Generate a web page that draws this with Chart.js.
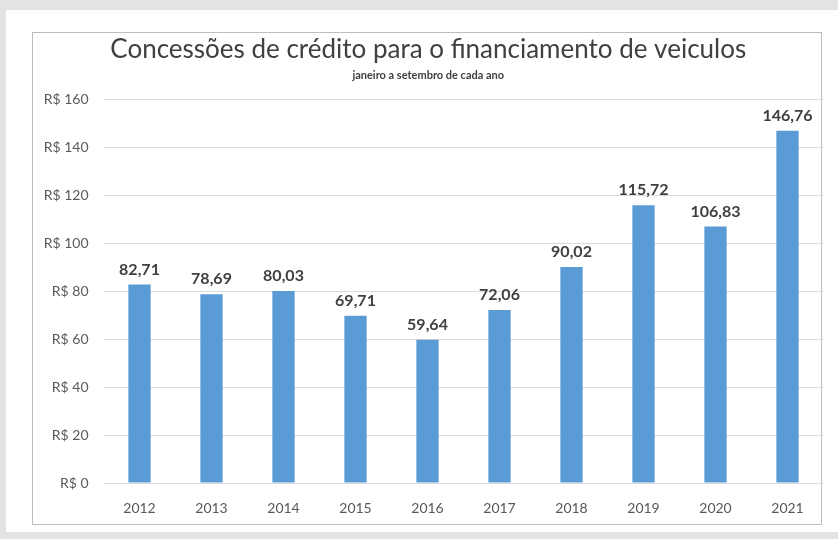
<!DOCTYPE html>
<html>
<head>
<meta charset="utf-8">
<script src="https://cdn.jsdelivr.net/npm/chart.js@4/dist/chart.umd.min.js"></script>
<style>
  html, body { margin: 0; padding: 0; background: #e3e3e3; }
  #wrap { position: relative; width: 838px; height: 539px; }
  canvas { position: absolute; left: 0; top: 0; }
</style>
</head>
<body>
<div id="wrap"><canvas id="c" width="838" height="539"></canvas></div>
<script>
// Vehicle-financing credit concessions, January–September, R$ billions
const years = ['2012', '2013', '2014', '2015', '2016', '2017', '2018', '2019', '2020', '2021'];
const concessions = [82.71, 78.69, 80.03, 69.71, 59.64, 72.06, 90.02, 115.72, 106.83, 146.76];
const yTicks = [0, 20, 40, 60, 80, 100, 120, 140, 160];

const FONT = 'Lato, "Open Sans", sans-serif';
const fmt = v => v.toFixed(2).replace('.', ',');

// page panel and framed chart box behind the plot
const frame = {
  id: 'frame',
  beforeDraw(chart) {
    const ctx = chart.ctx;
    ctx.save();
    ctx.fillStyle = '#e3e3e3';
    ctx.fillRect(0, 0, chart.width, chart.height);
    ctx.fillStyle = '#ffffff';
    ctx.fillRect(6, 10, chart.width - 6, 522);
    ctx.strokeStyle = '#bdbdbd';
    ctx.lineWidth = 1;
    ctx.strokeRect(32.5, 32.5, 789, 492);
    ctx.restore();
  }
};

// value labels above each bar
const valueLabels = {
  id: 'valueLabels',
  afterDatasetsDraw(chart) {
    const ctx = chart.ctx;
    const meta = chart.getDatasetMeta(0);
    ctx.save();
    ctx.font = 'bold 16px ' + FONT;
    ctx.fillStyle = '#404040';
    ctx.textAlign = 'center';
    ctx.textBaseline = 'bottom';
    meta.data.forEach((bar, i) => {
      ctx.fillText(fmt(concessions[i]), bar.x, bar.y - 7);
    });
    ctx.restore();
  }
};

new Chart(document.getElementById('c'), {
  type: 'bar',
  data: {
    labels: years,
    datasets: [{
      data: concessions,
      backgroundColor: '#5b9bd5',
      borderWidth: 0,
      barPercentage: 0.31,
      categoryPercentage: 1
    }]
  },
  options: {
    responsive: false,
    animation: false,
    devicePixelRatio: 1,
    layout: { padding: { top: 32, left: 33, right: 14.5, bottom: 14 } },
    plugins: {
      legend: { display: false },
      tooltip: { enabled: false },
      title: {
        display: true,
        text: 'Concessões de crédito para o financiamento de veiculos',
        color: '#404040',
        font: { family: FONT, size: 26, weight: 'normal' },
        padding: { top: 2.4, bottom: 0 }
      },
      subtitle: {
        display: true,
        text: 'janeiro a setembro de cada ano',
        color: '#404040',
        font: { family: FONT, size: 11, weight: 'bold' },
        padding: { top: 2.8, bottom: 17.4 }
      }
    },
    scales: {
      x: {
        grid: { display: false },
        border: { display: false },
        ticks: { color: '#595959', font: { family: FONT, size: 14 }, padding: 9 },
        afterFit(s) { s.height = 42; }
      },
      y: {
        min: 0,
        max: 160,
        afterBuildTicks(s) { s.ticks = yTicks.map(v => ({ value: v })); },
        grid: { color: '#dadada', lineWidth: 1, drawTicks: false },
        border: { display: false },
        ticks: {
          color: '#595959',
          font: { family: FONT, size: 14 },
          padding: 15,
          callback: v => 'R$ ' + v
        },
        afterFit(s) { s.width = 70.5; }
      }
    }
  },
  plugins: [frame, valueLabels]
});
</script>
</body>
</html>
